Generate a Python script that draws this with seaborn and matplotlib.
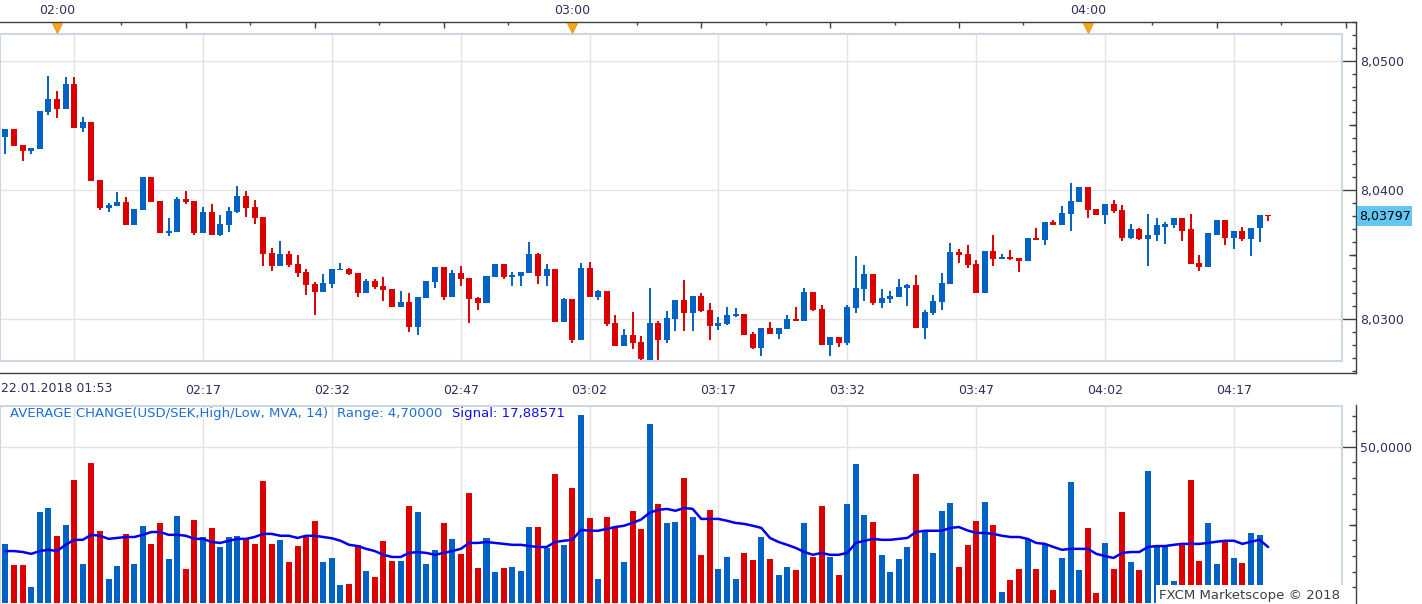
import numpy as np
import pandas as pd
import matplotlib
matplotlib.use("Agg")
import matplotlib.pyplot as plt
import matplotlib.transforms as mtransforms
from matplotlib.patches import Rectangle
import seaborn as sns

# USD/SEK 1-minute candles, 22.01.2018, first candle 01:54
start_time = "2018-01-22 01:54"
open_px = [8.04410, 8.04472, 8.04349, 8.04303, 8.04318, 8.04603, 8.04703, 8.04626, 8.04818, 8.04479,
           8.04526, 8.04079, 8.03864, 8.03880, 8.03910, 8.03726, 8.03849, 8.04103, 8.03918, 8.03664,
           8.03672, 8.03933, 8.03918, 8.03664, 8.03833, 8.03656, 8.03733, 8.03833, 8.03956, 8.03872,
           8.03795, 8.03510, 8.03410, 8.03503, 8.03426, 8.03364, 8.03272, 8.03210, 8.03272, 8.03379,
           8.03387, 8.03356, 8.03203, 8.03295, 8.03256, 8.03233, 8.03095, 8.03133, 8.02941, 8.03164,
           8.03287, 8.03403, 8.03172, 8.03356, 8.03318, 8.03164, 8.03126, 8.03326, 8.03426, 8.03326,
           8.03333, 8.03356, 8.03503, 8.03333, 8.03387, 8.02979, 8.03156, 8.02841, 8.03395, 8.03172,
           8.03218, 8.02972, 8.02795, 8.02880, 8.02826, 8.02687, 8.02972, 8.02841, 8.03003, 8.03149,
           8.03049, 8.03179, 8.03072, 8.02949, 8.02964, 8.03026, 8.03041, 8.02887, 8.02780, 8.02933,
           8.02887, 8.02926, 8.03003, 8.02987, 8.03210, 8.03079, 8.02803, 8.02864, 8.02818, 8.03087,
           8.03233, 8.03349, 8.03126, 8.03156, 8.03172, 8.03241, 8.03264, 8.02933, 8.03049, 8.03133,
           8.03272, 8.03518, 8.03503, 8.03426, 8.03200, 8.03526, 8.03464, 8.03479, 8.03472, 8.03449,
           8.03626, 8.03610, 8.03756, 8.03733, 8.03818, 8.03910, 8.04026, 8.03856, 8.03810, 8.03895,
           8.03849, 8.03626, 8.03695, 8.03618, 8.03649, 8.03718, 8.03733, 8.03780, 8.03695, 8.03433,
           8.03403, 8.03656, 8.03772, 8.03626, 8.03687, 8.03618, 8.03703, 8.03810]
high_px = [8.04472, 8.04472, 8.04349, 8.04326, 8.04610, 8.04880, 8.04764, 8.04872, 8.04872, 8.04564,
           8.04526, 8.04079, 8.03903, 8.03987, 8.03949, 8.03856, 8.04103, 8.04103, 8.03918, 8.03780,
           8.03949, 8.03995, 8.03918, 8.03872, 8.03895, 8.03810, 8.03872, 8.04033, 8.03995, 8.03926,
           8.03795, 8.03549, 8.03603, 8.03526, 8.03495, 8.03387, 8.03287, 8.03349, 8.03387, 8.03433,
           8.03395, 8.03356, 8.03310, 8.03310, 8.03326, 8.03233, 8.03218, 8.03203, 8.03172, 8.03295,
           8.03403, 8.03403, 8.03379, 8.03410, 8.03318, 8.03172, 8.03333, 8.03426, 8.03426, 8.03364,
           8.03364, 8.03595, 8.03510, 8.03426, 8.03387, 8.03164, 8.03156, 8.03433, 8.03441, 8.03226,
           8.03218, 8.03033, 8.02926, 8.03056, 8.02872, 8.03241, 8.02987, 8.03064, 8.03149, 8.03303,
           8.03179, 8.03203, 8.03126, 8.03018, 8.03095, 8.03087, 8.03041, 8.02903, 8.02933, 8.02979,
           8.02933, 8.03033, 8.03095, 8.03241, 8.03210, 8.03110, 8.02864, 8.02864, 8.03110, 8.03487,
           8.03418, 8.03349, 8.03233, 8.03218, 8.03310, 8.03272, 8.03341, 8.03072, 8.03187, 8.03356,
           8.03587, 8.03541, 8.03572, 8.03456, 8.03526, 8.03656, 8.03503, 8.03533, 8.03472, 8.03626,
           8.03710, 8.03756, 8.03772, 8.03880, 8.04056, 8.04026, 8.04026, 8.03856, 8.03895, 8.03926,
           8.03887, 8.03741, 8.03710, 8.03818, 8.03780, 8.03756, 8.03780, 8.03780, 8.03818, 8.03495,
           8.03664, 8.03772, 8.03772, 8.03687, 8.03718, 8.03710, 8.03810, 8.03810]
low_px = [8.04279, 8.04341, 8.04226, 8.04279, 8.04318, 8.04580, 8.04556, 8.04626, 8.04479, 8.04449,
          8.04072, 8.03849, 8.03833, 8.03880, 8.03726, 8.03726, 8.03849, 8.03910, 8.03664, 8.03641,
          8.03672, 8.03895, 8.03656, 8.03664, 8.03656, 8.03641, 8.03672, 8.03826, 8.03795, 8.03741,
          8.03410, 8.03372, 8.03410, 8.03403, 8.03326, 8.03187, 8.03033, 8.03210, 8.03241, 8.03379,
          8.03341, 8.03172, 8.03203, 8.03233, 8.03141, 8.03095, 8.03095, 8.02903, 8.02880, 8.03164,
          8.03241, 8.03149, 8.03172, 8.03256, 8.02972, 8.03072, 8.03126, 8.03326, 8.03310, 8.03256,
          8.03256, 8.03356, 8.03272, 8.03256, 8.02979, 8.02979, 8.02818, 8.02841, 8.03172, 8.03149,
          8.02949, 8.02795, 8.02795, 8.02772, 8.02687, 8.02687, 8.02687, 8.02818, 8.02910, 8.02910,
          8.02910, 8.03056, 8.02841, 8.02918, 8.02956, 8.03018, 8.02880, 8.02772, 8.02718, 8.02887,
          8.02849, 8.02926, 8.02987, 8.02987, 8.03064, 8.02803, 8.02718, 8.02787, 8.02803, 8.03049,
          8.03141, 8.03110, 8.03087, 8.03126, 8.03172, 8.03103, 8.02933, 8.02849, 8.03033, 8.03072,
          8.03272, 8.03433, 8.03395, 8.03200, 8.03200, 8.03410, 8.03464, 8.03456, 8.03364, 8.03449,
          8.03610, 8.03572, 8.03733, 8.03733, 8.03680, 8.03910, 8.03787, 8.03810, 8.03741, 8.03826,
          8.03603, 8.03618, 8.03610, 8.03410, 8.03603, 8.03580, 8.03703, 8.03603, 8.03426, 8.03372,
          8.03403, 8.03649, 8.03572, 8.03541, 8.03603, 8.03487, 8.03595, 8.03763]
close_px = [8.04472, 8.04341, 8.04303, 8.04326, 8.04610, 8.04703, 8.04626, 8.04818, 8.04479, 8.04526,
            8.04072, 8.03864, 8.03887, 8.03910, 8.03726, 8.03856, 8.04103, 8.03910, 8.03664, 8.03680,
            8.03933, 8.03910, 8.03664, 8.03833, 8.03656, 8.03741, 8.03841, 8.03956, 8.03864, 8.03787,
            8.03503, 8.03410, 8.03503, 8.03418, 8.03356, 8.03264, 8.03210, 8.03280, 8.03387, 8.03387,
            8.03349, 8.03203, 8.03295, 8.03249, 8.03226, 8.03095, 8.03133, 8.02941, 8.03172, 8.03295,
            8.03403, 8.03172, 8.03356, 8.03310, 8.03156, 8.03126, 8.03333, 8.03426, 8.03326, 8.03341,
            8.03364, 8.03503, 8.03333, 8.03387, 8.02979, 8.03156, 8.02841, 8.03395, 8.03172, 8.03218,
            8.02964, 8.02795, 8.02880, 8.02818, 8.02695, 8.02972, 8.02841, 8.03010, 8.03149, 8.03049,
            8.03179, 8.03064, 8.02949, 8.02972, 8.03033, 8.03041, 8.02880, 8.02780, 8.02933, 8.02887,
            8.02933, 8.03003, 8.02987, 8.03210, 8.03072, 8.02803, 8.02864, 8.02818, 8.03095, 8.03241,
            8.03349, 8.03126, 8.03164, 8.03179, 8.03249, 8.03264, 8.02933, 8.03056, 8.03141, 8.03279,
            8.03518, 8.03495, 8.03418, 8.03200, 8.03526, 8.03464, 8.03479, 8.03464, 8.03449, 8.03626,
            8.03610, 8.03756, 8.03733, 8.03826, 8.03918, 8.04026, 8.03849, 8.03810, 8.03895, 8.03841,
            8.03626, 8.03695, 8.03618, 8.03656, 8.03726, 8.03741, 8.03780, 8.03687, 8.03426, 8.03403,
            8.03664, 8.03772, 8.03626, 8.03687, 8.03618, 8.03710, 8.03810, 8.03797]

# AVERAGE CHANGE indicator: range bars (pips) and MVA(14) signal line
range_pips = [18.9, 12.2, 12.2, 5.1, 29.1, 30.4, 21.5, 25.0, 39.4, 12.5, 44.8, 23.1, 7.7, 11.8, 22.1,
              12.5, 24.7, 18.9, 25.6, 14.1, 27.9, 10.9, 26.6, 21.1, 24.0, 17.9, 21.1, 21.5, 20.5, 18.9,
              39.1, 18.9, 20.2, 13.1, 18.2, 21.5, 26.3, 13.1, 14.4, 5.8, 6.1, 18.6, 10.2, 8.3, 19.9,
              13.4, 13.4, 31.1, 29.1, 12.5, 17.0, 25.6, 20.5, 15.7, 35.2, 11.2, 20.8, 9.9, 11.2, 11.5,
              10.2, 24.3, 24.3, 17.6, 41.3, 18.6, 36.8, 60.2, 27.2, 7.7, 27.5, 24.0, 13.1, 29.5, 23.7,
              57.3, 31.7, 25.6, 25.9, 40.0, 27.5, 15.4, 29.8, 10.9, 14.7, 7.7, 16.0, 13.8, 21.1, 14.1,
              9.0, 11.5, 10.6, 25.6, 14.7, 31.1, 14.7, 9.0, 31.7, 44.5, 28.2, 25.9, 15.4, 9.9, 14.1,
              17.9, 41.3, 23.1, 16.0, 29.5, 32.0, 11.5, 18.6, 26.3, 32.3, 25.0, 3.5, 7.4, 10.9, 20.5,
              10.9, 18.9, 4.2, 14.4, 38.7, 10.6, 24.0, 3.2, 19.2, 10.9, 29.1, 13.1, 10.6, 42.3, 18.2,
              18.2, 7.0, 18.6, 39.4, 13.4, 25.6, 12.5, 19.9, 14.4, 12.8, 22.4, 21.8, 4.7]
signal = [16.6, 16.6, 16.3, 15.7, 16.6, 17.0, 16.6, 18.6, 20.2, 20.2, 21.8, 21.5, 20.5, 20.8, 21.1,
          21.1, 21.8, 22.7, 22.7, 21.8, 21.8, 21.5, 20.5, 20.5, 19.5, 19.2, 19.9, 20.5, 20.5, 21.1,
          22.1, 22.1, 21.5, 21.5, 20.8, 21.5, 21.5, 21.1, 20.7, 19.9, 18.6, 18.2, 17.3, 16.6, 15.4,
          14.7, 14.7, 16.0, 16.3, 16.0, 15.4, 16.0, 16.6, 17.3, 19.2, 19.2, 19.5, 19.2, 18.9, 18.6,
          18.6, 18.2, 17.9, 17.9, 19.5, 19.9, 20.2, 23.4, 23.1, 23.1, 23.7, 24.3, 24.7, 25.6, 26.7,
          28.9, 29.8, 30.1, 29.5, 30.4, 30.1, 26.9, 26.9, 26.9, 26.3, 25.6, 25.3, 24.7, 24.0, 20.8,
          19.5, 18.6, 17.6, 16.3, 15.4, 16.0, 15.4, 15.4, 16.0, 19.2, 19.9, 20.5, 20.2, 20.2, 20.5,
          20.8, 22.7, 23.1, 23.1, 23.1, 24.0, 24.3, 23.2, 22.4, 22.4, 22.1, 21.5, 21.1, 21.1, 20.5,
          19.2, 18.9, 17.9, 17.0, 17.3, 17.3, 17.3, 15.7, 15.0, 14.4, 16.0, 16.3, 16.3, 17.9, 18.2,
          18.2, 18.6, 18.9, 18.9, 18.9, 19.2, 19.6, 19.9, 19.9, 18.9, 19.6, 20.2, 17.886]

price_ticks = [8.03, 8.04, 8.05]
top_labels = ["02:00", "03:00", "04:00"]
bottom_labels = ["", "02:17", "02:32", "02:47", "03:02", "03:17", "03:32", "03:47", "04:02", "04:17"]
first_label = "22.01.2018 01:53"
last_price_label = "8,03797"
header = "AVERAGE CHANGE(USD/SEK,High/Low, MVA, 14)"
range_text = "Range: 4,70000"
signal_text = "Signal: 17,88571"

sns.set_style("white")
plt.rcParams['font.family'] = ['DejaVu Sans']

BLUE = "#0062c4"
RED = "#dc0000"
GRID = "#e2e2e2"
BOX = "#cdd6e2"
AXC = "#404040"
LBL = "#2e2e5e"

W, H = 1422, 604
fig = plt.figure(figsize=(W / 100, H / 100), dpi=100)
fig.patch.set_facecolor("white")

# pixel <-> data helpers
X0, PPM = 57, 8.59          # x pixel of 02:00, pixels per minute
def px2min(px):
    return (px - X0) / PPM
def py2price(py):
    return 8.05 - (py - 60.7) / 12930
def py2val(py):
    return (602.9 - py) / 3.123
def fig_rect(x0, y0, x1, y1):
    return [x0 / W, 1 - y1 / H, (x1 - x0) / W, (y1 - y0) / H]

times = pd.date_range(start_time, periods=len(open_px), freq="min")
x = ((times - pd.Timestamp("2018-01-22 02:00")) / pd.Timedelta(minutes=1)).values
o, h, l, c = map(np.array, (open_px, high_px, low_px, close_px))
colors = np.where(c >= o, BLUE, RED)

grid_min = [2 + 15 * k for k in range(10)]

# ---------------- price panel ----------------
ax1 = fig.add_axes(fig_rect(0, 22, 1356, 373))
ax1.set_facecolor("white")
ax1.set_xlim(px2min(0), px2min(1356))
ax1.set_ylim(py2price(373), py2price(22))

ax1.add_patch(Rectangle((px2min(0.5), py2price(361)), px2min(1342) - px2min(0.5),
                        py2price(34) - py2price(361), fill=False, ec=BOX, lw=1.5, zorder=1))
ax1.vlines(grid_min, py2price(361), py2price(34), color=GRID, lw=1, zorder=0)
ax1.hlines(price_ticks, px2min(0), px2min(1342), color=GRID, lw=1, zorder=0)

ax1.vlines(x, l, h, colors=colors, lw=1.4, zorder=3)
ax1.bar(x, np.maximum(np.abs(c - o), 0.00003), bottom=np.minimum(o, c), width=0.7,
        color=colors, linewidth=0, zorder=4)

for s in ["top", "right", "bottom"]:
    ax1.spines[s].set_color(AXC)
    ax1.spines[s].set_linewidth(1)
ax1.spines["left"].set_visible(False)

ax1.yaxis.tick_right()
ax1.set_yticks(price_ticks)
ax1.set_yticklabels([f"{v:.4f}".replace(".", ",") for v in price_ticks])
ax1.set_yticks(np.round(np.arange(8.026, 8.053, 0.001), 3), minor=True)
ax1.tick_params(axis="y", which="major", direction="in", length=10, width=1, color=AXC,
                labelcolor=LBL, labelsize=9, pad=3)
ax1.tick_params(axis="y", which="minor", direction="in", length=3.2, width=1, color=AXC)
ax1.hlines([8.035, 8.045], 1 - 7 / 1356, 1, transform=ax1.get_yaxis_transform(),
           color=AXC, lw=1, clip_on=False)

ax1.set_xticks(grid_min)
ax1.set_xticklabels(bottom_labels)
ax1.set_xticks([2 + 1.875 * k for k in range(-4, 80) if k % 8], minor=True)
ax1.tick_params(axis="x", which="major", direction="in", length=7, width=1, color=AXC,
                labelcolor=LBL, labelsize=9, pad=8, top=False)
ax1.tick_params(axis="x", which="minor", direction="in", length=3.2, width=1, color=AXC, top=False)

# top time axis (hour markers)
blend = mtransforms.blended_transform_factory(ax1.transData, ax1.transAxes)
top_major = [15 * k for k in range(0, 11)]
top_minor = [7.5 + 15 * k for k in range(0, 10)]
ax1.vlines(top_major, 1 - 6 / 351, 1, transform=blend, color=AXC, lw=1, clip_on=False)
ax1.vlines(top_minor, 1 - 3 / 351, 1, transform=blend, color=AXC, lw=1, clip_on=False)
for m, lab in zip([0, 60, 120], top_labels):
    ax1.text(m, (373 - 10) / 351, lab, transform=blend, ha="center", va="center",
             fontsize=9, color=LBL, clip_on=False)
    ax1.plot([m], [(373 - 27.5) / 351], marker="v", ms=7, color="#f7a51c",
             mec="#e8900a", mew=0.6, transform=blend, clip_on=False, zorder=6)
ax1.set_xlabel("")
ax1.set_ylabel("")

fig.text(1 / W, 1 - 389 / H, first_label, ha="left", va="center", fontsize=9, color=LBL)

# current price tag
fig.add_artist(Rectangle((1357 / W, 1 - 226 / H), 55 / W, 20 / H, transform=fig.transFigure,
                         fc="#62c6f2", ec="none", zorder=5))
fig.text(1359 / W, 1 - 216 / H, last_price_label, ha="left", va="center", fontsize=9,
         color="black", zorder=6)

# ---------------- indicator panel ----------------
ax2 = fig.add_axes(fig_rect(0, 405, 1356, 604))
ax2.set_facecolor("white")
ax2.set_xlim(px2min(0), px2min(1356))
ax2.set_ylim(py2val(604), py2val(405))

ax2.add_patch(Rectangle((px2min(0.5), py2val(606)), px2min(1342) - px2min(0.5),
                        py2val(405.5) - py2val(606), fill=False, ec=BOX, lw=1.5, zorder=1))
ax2.vlines(grid_min, py2val(604), py2val(405), color=GRID, lw=1, zorder=0)
ax2.hlines([50], px2min(0), px2min(1342), color=GRID, lw=1, zorder=0)

ax2.bar(x, range_pips, width=0.7, color=colors, linewidth=0, zorder=2)
sns.lineplot(x=x, y=signal, ax=ax2, color="#0000f0", lw=1.8, zorder=3)
ax2.set_xlabel("")
ax2.set_ylabel("")

for s in ["top", "left", "bottom"]:
    ax2.spines[s].set_visible(False)
ax2.spines["right"].set_color(AXC)
ax2.spines["right"].set_linewidth(1)
ax2.set_xticks([])
ax2.yaxis.tick_right()
ax2.set_yticks([50])
ax2.set_yticklabels(["50,0000"])
ax2.set_yticks(list(range(5, 65, 5)), minor=True)
ax2.tick_params(axis="y", which="major", direction="in", length=10, width=1, color=AXC,
                labelcolor=LBL, labelsize=9, pad=3)
ax2.tick_params(axis="y", which="minor", direction="in", length=3.2, width=1, color=AXC)
ax2.hlines([25], 1 - 7 / 1356, 1, transform=ax2.get_yaxis_transform(), color=AXC, lw=1,
           clip_on=False)

fig.text(10 / W, 1 - 413 / H, header, ha="left", va="center", fontsize=9.5, color="#1f6fd0")
fig.text(337 / W, 1 - 413 / H, range_text, ha="left", va="center", fontsize=9.5, color="#1f6fd0")
fig.text(452 / W, 1 - 413 / H, signal_text, ha="left", va="center", fontsize=9.5, color="#1010e6")
fig.text(1340 / W, 1 - 595 / H, "FXCM Marketscope © 2018", ha="right", va="center",
         fontsize=9.5, color="#3c3c4c", zorder=10,
         bbox=dict(fc="white", ec="none", boxstyle="square,pad=0.25"))

fig.savefig("out.png", dpi=100)
